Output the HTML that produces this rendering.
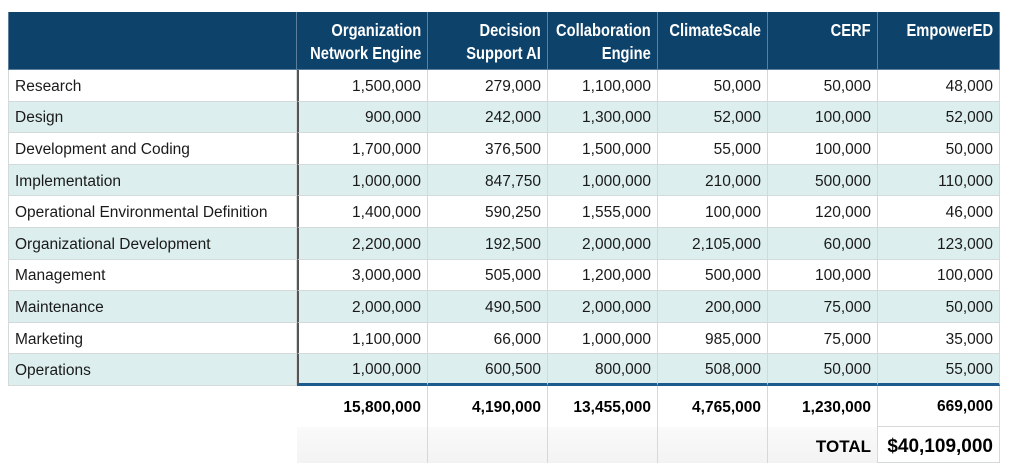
<!DOCTYPE html>
<html><head><meta charset="utf-8"><style>
html,body{margin:0;padding:0;background:#fff;width:1012px;height:473px;overflow:hidden}
.g{position:absolute;left:8px;top:12px;display:grid;grid-template-columns:289px 131px 120px 110px 110px 110px 122px;grid-template-rows:58px repeat(10,31.6px) 41px 36px;font-family:"Liberation Sans",sans-serif;font-size:15.5px;color:#1a1a1a}
.c{box-sizing:border-box;border-right:1px solid #d4dada;border-bottom:1px solid #d4dada;text-align:right;padding-right:6px;padding-top:3px;display:flex;align-items:center;justify-content:flex-end}
.l{justify-content:flex-start;padding-left:6px;border-left:1px solid #d4dada}
.h{background:#0d426b;color:#fff;font-weight:bold;font-size:17.5px;line-height:23px;border-color:#5d7f9c;align-items:flex-start;padding-top:7px}
.h span{display:inline-block;transform:scaleX(.84);transform-origin:right top;white-space:nowrap}
.a{background:#dcefee}
.d{border-left:2px solid #555}
.r10{border-bottom:3px solid #1d5a8e}
.t{border-bottom:none}
.e{border:none}
.gr{background:linear-gradient(#fafafa,#f3f3f3);border-bottom:none}
.tot{font-size:19px;border-bottom:1px solid #d4dada}
b{font-weight:bold;color:#000}
</style></head><body><div class="g">
<div class="c h l"></div><div class="c h"><span>Organization<br>Network Engine</span></div><div class="c h"><span>Decision<br>Support AI</span></div><div class="c h"><span>Collaboration<br>Engine</span></div><div class="c h"><span>ClimateScale</span></div><div class="c h"><span>CERF</span></div><div class="c h"><span>EmpowerED</span></div>
<div class="c l">Research</div><div class="c d">1,500,000</div><div class="c">279,000</div><div class="c">1,100,000</div><div class="c">50,000</div><div class="c">50,000</div><div class="c">48,000</div>
<div class="c l a">Design</div><div class="c d a">900,000</div><div class="c a">242,000</div><div class="c a">1,300,000</div><div class="c a">52,000</div><div class="c a">100,000</div><div class="c a">52,000</div>
<div class="c l">Development and Coding</div><div class="c d">1,700,000</div><div class="c">376,500</div><div class="c">1,500,000</div><div class="c">55,000</div><div class="c">100,000</div><div class="c">50,000</div>
<div class="c l a">Implementation</div><div class="c d a">1,000,000</div><div class="c a">847,750</div><div class="c a">1,000,000</div><div class="c a">210,000</div><div class="c a">500,000</div><div class="c a">110,000</div>
<div class="c l">Operational Environmental Definition</div><div class="c d">1,400,000</div><div class="c">590,250</div><div class="c">1,555,000</div><div class="c">100,000</div><div class="c">120,000</div><div class="c">46,000</div>
<div class="c l a">Organizational Development</div><div class="c d a">2,200,000</div><div class="c a">192,500</div><div class="c a">2,000,000</div><div class="c a">2,105,000</div><div class="c a">60,000</div><div class="c a">123,000</div>
<div class="c l">Management</div><div class="c d">3,000,000</div><div class="c">505,000</div><div class="c">1,200,000</div><div class="c">500,000</div><div class="c">100,000</div><div class="c">100,000</div>
<div class="c l a">Maintenance</div><div class="c d a">2,000,000</div><div class="c a">490,500</div><div class="c a">2,000,000</div><div class="c a">200,000</div><div class="c a">75,000</div><div class="c a">50,000</div>
<div class="c l">Marketing</div><div class="c d">1,100,000</div><div class="c">66,000</div><div class="c">1,000,000</div><div class="c">985,000</div><div class="c">75,000</div><div class="c">35,000</div>
<div class="c l a">Operations</div><div class="c d a r10">1,000,000</div><div class="c a r10">600,500</div><div class="c a r10">800,000</div><div class="c a r10">508,000</div><div class="c a r10">50,000</div><div class="c a r10">55,000</div>
<div class="c e"></div><div class="c t"><b>15,800,000</b></div><div class="c t"><b>4,190,000</b></div><div class="c t"><b>13,455,000</b></div><div class="c t"><b>4,765,000</b></div><div class="c t"><b>1,230,000</b></div><div class="c" style="border-bottom:1px solid #d4dada"><b>669,000</b></div>
<div class="c e"></div><div class="c gr"></div><div class="c gr"></div><div class="c gr"></div><div class="c gr"></div><div class="c gr" style="font-size:17px;padding-top:5px"><b>TOTAL</b></div><div class="c tot" style="padding-top:5px"><b>$40,109,000</b></div>
</div></body></html>
